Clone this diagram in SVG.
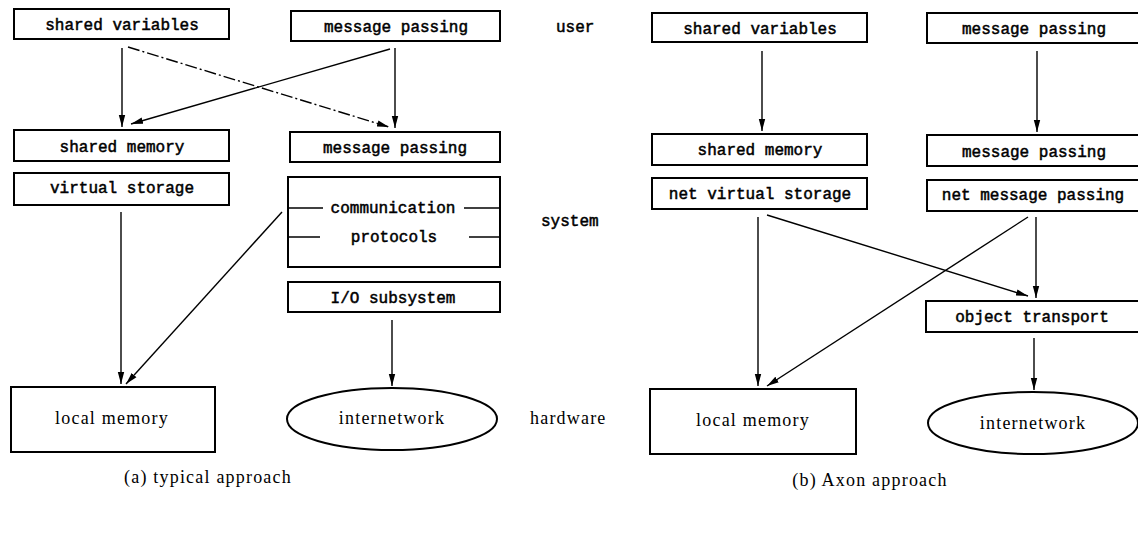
<svg xmlns="http://www.w3.org/2000/svg" width="1138" height="533" viewBox="0 0 1138 533">
<style>
.box{fill:#fff;stroke:#000;stroke-width:2}
.lbl{font-family:"Liberation Mono",monospace;font-size:16px;fill:#000;stroke:#000;stroke-width:0.5;text-anchor:middle}
.ser{font-family:"Liberation Serif",serif;font-size:18px;letter-spacing:1.2px;fill:#000;text-anchor:middle}
.lvl{font-family:"Liberation Mono",monospace;font-size:16px;fill:#000;stroke:#000;stroke-width:0.5}
.con{fill:none;stroke:#000;stroke-width:1.4;marker-end:url(#ah)}
.dd{stroke-dasharray:12 3 2 3}
.tick{stroke:#000;stroke-width:1.5}
</style>
<defs>
<marker id="ah" markerWidth="13" markerHeight="8" refX="12" refY="4" orient="auto" markerUnits="userSpaceOnUse">
<path d="M0,0.8 L12,4 L0,7.2 Z" fill="#000"/>
</marker>
</defs>
<rect width="1138" height="533" fill="#fff"/>

<!-- panel a -->
<g id="a-shared-variables"><rect class="box" x="14" y="9" width="215" height="30"/><text class="lbl" x="122" y="30">shared variables</text></g>
<g id="a-message-passing-user"><rect class="box" x="291" y="11" width="209" height="30"/><text class="lbl" x="396" y="32">message passing</text></g>
<g id="a-shared-memory"><rect class="box" x="14" y="130" width="215" height="31"/><text class="lbl" x="122" y="152">shared memory</text></g>
<g id="a-message-passing-sys"><rect class="box" x="290" y="132" width="210" height="30"/><text class="lbl" x="395" y="153">message passing</text></g>
<g id="a-virtual-storage"><rect class="box" x="14" y="173" width="215" height="32"/><text class="lbl" x="122" y="193">virtual storage</text></g>
<g id="a-comm-protocols"><rect class="box" x="288" y="177" width="212" height="90"/>
<text class="lbl" x="393" y="213">communication</text>
<text class="lbl" x="394" y="242">protocols</text>
<line class="tick" x1="288" y1="208" x2="323" y2="208"/><line class="tick" x1="464" y1="208" x2="500" y2="208"/>
<line class="tick" x1="288" y1="237" x2="320" y2="237"/><line class="tick" x1="469" y1="237" x2="500" y2="237"/></g>
<g id="a-io-subsystem"><rect class="box" x="288" y="282" width="212" height="30"/><text class="lbl" x="393" y="303">I/O subsystem</text></g>
<g id="a-local-memory"><rect class="box" x="11" y="387" width="204" height="65"/><text class="ser" x="112" y="424">local memory</text></g>
<g id="a-internetwork"><ellipse class="box" cx="392" cy="419" rx="105" ry="31"/><text class="ser" x="392" y="424">internetwork</text></g>

<text class="lvl" x="556" y="32">user</text>
<text class="lvl" x="541" y="226">system</text>
<text class="ser" x="530" y="424" style="text-anchor:start">hardware</text>
<text class="ser" x="208" y="483">(a) typical approach</text>

<!-- panel b -->
<g id="b-shared-variables"><rect class="box" x="652" y="13" width="215" height="29"/><text class="lbl" x="760" y="34">shared variables</text></g>
<g id="b-message-passing-user"><rect class="box" x="927" y="13" width="220" height="30"/><text class="lbl" x="1034" y="34">message passing</text></g>
<g id="b-shared-memory"><rect class="box" x="652" y="134" width="215" height="31"/><text class="lbl" x="760" y="155">shared memory</text></g>
<g id="b-message-passing-sys"><rect class="box" x="927" y="135" width="220" height="31"/><text class="lbl" x="1034" y="157">message passing</text></g>
<g id="b-net-virtual-storage"><rect class="box" x="652" y="178" width="215" height="31"/><text class="lbl" x="760" y="199">net virtual storage</text></g>
<g id="b-net-message-passing"><rect class="box" x="927" y="180" width="220" height="31"/><text class="lbl" x="1033" y="200">net message passing</text></g>
<g id="b-object-transport"><rect class="box" x="926" y="301" width="221" height="31"/><text class="lbl" x="1032" y="322">object transport</text></g>
<g id="b-local-memory"><rect class="box" x="650" y="389" width="206" height="65"/><text class="ser" x="753" y="426">local memory</text></g>
<g id="b-internetwork"><ellipse class="box" cx="1033" cy="423" rx="105" ry="31"/><text class="ser" x="1033" y="429">internetwork</text></g>
<text class="ser" x="870" y="486">(b) Axon approach</text>

<g id="connectors">
<line class="con" x1="122" y1="48" x2="122" y2="127"/>
<line class="con dd" x1="128" y1="47" x2="389" y2="127"/>
<line class="con" x1="390" y1="49" x2="131" y2="124"/>
<line class="con" x1="395" y1="48" x2="395" y2="128"/>
<line class="con" x1="121" y1="212" x2="121" y2="384"/>
<line class="con" x1="282" y1="212" x2="126" y2="384"/>
<line class="con" x1="392" y1="320" x2="392" y2="386"/>

<line class="con" x1="762" y1="51" x2="762" y2="131"/>
<line class="con" x1="1037" y1="51" x2="1037" y2="132"/>
<line class="con" x1="758" y1="217" x2="758" y2="386"/>
<line class="con" x1="767" y1="215" x2="1028" y2="296"/>
<line class="con" x1="1028" y1="217" x2="767" y2="386"/>
<line class="con" x1="1036" y1="217" x2="1036" y2="298"/>
<line class="con" x1="1034" y1="338" x2="1034" y2="390"/>
</g>
</svg>
